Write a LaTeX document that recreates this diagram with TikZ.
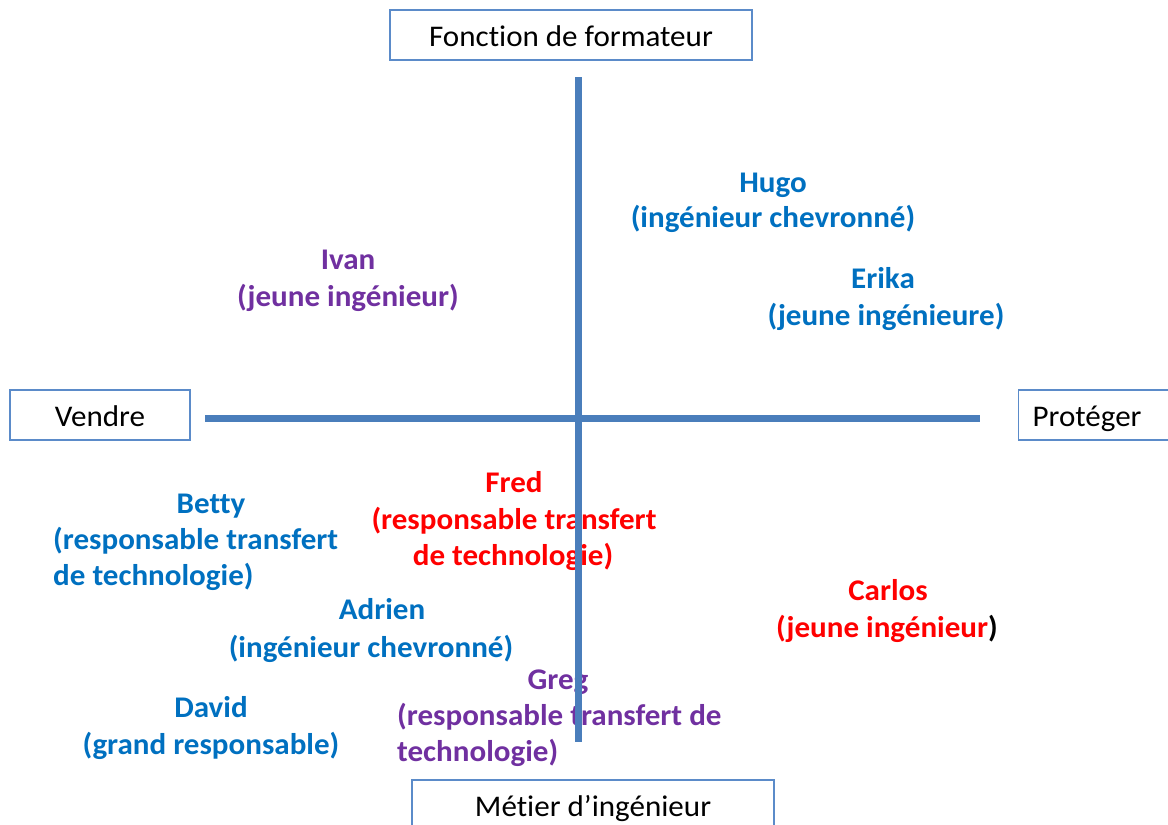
\documentclass[tikz,border=0pt]{standalone}
\usepackage{fontspec}
\setmainfont{Carlito}
\newfontfamily\lblfont[FakeStretch=1.035,Ligatures=NoCommon]{Carlito}
\definecolor{axisblue}{HTML}{4A7EBB}
\definecolor{boxblue}{HTML}{5B8BC9}
\definecolor{pblue}{HTML}{0070C0}
\definecolor{ppurple}{HTML}{7030A0}
\definecolor{pred}{HTML}{FF0000}
\begin{document}
\begin{tikzpicture}[x=1pt,y=-1pt,
  lbl/.style={anchor=base, inner sep=0pt, font=\lblfont\fontsize{30}{36}\selectfont\bfseries},
  blu/.style={lbl, text=pblue},
  pur/.style={lbl, text=ppurple},
  rd/.style={lbl, text=pred},
  boxlbl/.style={draw=boxblue, line width=1.2pt, fill=white, inner sep=0pt, minimum height=50pt, text height=24pt, text depth=2pt, font=\lblfont\fontsize{30}{36}\selectfont, text=black},
  axis/.style={draw=axisblue, line width=7pt}]
\useasboundingbox (0,0) rectangle (1168,825);
% quadrant labels
\node[blu] (hugo1) at (773,192) {Hugo};
\node[blu] (hugo2) at (773,227) {(ingénieur chevronné)};
\node[pur] (ivan1) at (348,269) {Ivan};
\node[pur] (ivan2) at (348,306) {(jeune ingénieur)};
\node[blu] (erika1) at (883,288) {Erika};
\node[blu] (erika2) at (886,325) {(jeune ingénieure)};
\node[blu] (betty1) at (211,513) {Betty};
\node[blu, anchor=base west] (betty2) at (53,549) {(responsable transfert};
\node[blu, anchor=base west] (betty3) at (53,585) {de technologie)};
\node[rd] (fred1) at (514,492) {Fred};
\node[rd] (fred2) at (514,529) {(responsable transfert};
\node[rd] (fred3) at (513,565) {de technologie)};
\node[blu] (adrien1) at (382,619) {Adrien};
\node[blu] (adrien2) at (371,657) {(ingénieur chevronné)};
\node[rd] (carlos1) at (888,600) {Carlos};
\node[rd] (carlos2) at (887,637) {(jeune ingénieur\textcolor{black}{)}};
\node[blu] (david1) at (211,717) {David};
\node[blu] (david2) at (211,754) {(grand responsable)};
\node[pur] (greg1) at (558,689) {Greg};
\node[pur, anchor=base west] (greg2) at (397,725) {(responsable transfert de};
\node[pur, anchor=base west] (greg3) at (397,761) {technologie)};
% axes
\coordinate (vtop) at (578,77);
\coordinate (vbot) at (578,742);
\coordinate (hleft) at (205,418);
\coordinate (hright) at (980,418);
\draw[axis] (vtop) -- (vbot);
\draw[axis] (hleft) -- (hright);
% boxes
\node[boxlbl, minimum width=362pt] (top) at (571,35) {Fonction de formateur};
\node[boxlbl, minimum width=180pt] (left) at (100,415) {Vendre};
\node[boxlbl, anchor=west, minimum width=160pt, text width=132pt, align=left, inner xsep=14pt] (right) at (1018,415) {Protéger};
\node[boxlbl, minimum width=362pt] (bottom) at (593,805) {Métier d’ingénieur};
\end{tikzpicture}
\end{document}
